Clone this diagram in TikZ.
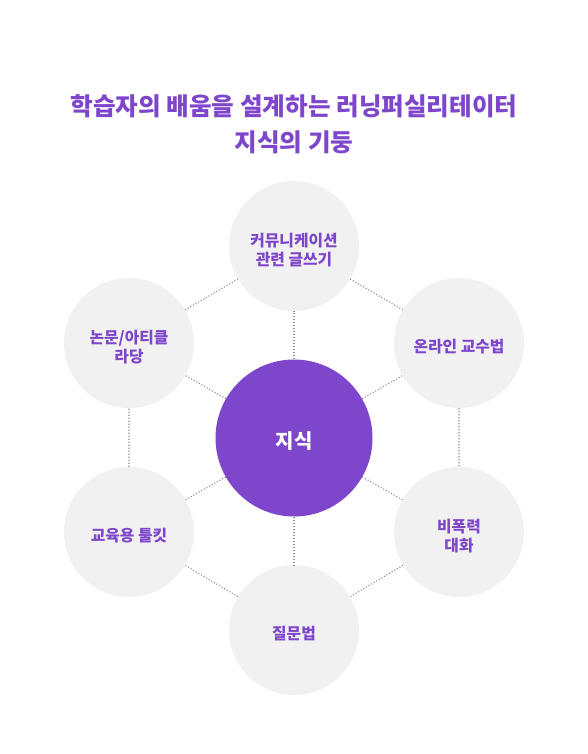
\documentclass[tikz,border=0pt]{standalone}
\usepackage{fontspec}
\newfontfamily\kr{Noto Sans CJK KR}
\usepackage{tikz}
\usetikzlibrary{positioning}
\definecolor{purp}{HTML}{7E46CB}
\definecolor{pale}{HTML}{F1F1F1}

\begin{document}
\begin{tikzpicture}[x=1pt,y=-1pt,
  core/.style={circle,fill=purp,minimum size=157pt,inner sep=0pt},
  coretext/.style={text=white,font=\kr\bfseries\fontsize{20}{24}\selectfont,yshift=-3pt},
  pillar/.style={circle,fill=pale,minimum size=130pt,inner sep=0pt},
  pilltext/.style={align=center,text=purp,font=\kr\bfseries\fontsize{15.8}{19}\selectfont,yshift=-4pt},
  link/.style={draw=black!45,line width=1.1pt,dash pattern=on 1.1pt off 1.9pt}]
\useasboundingbox (0,0) rectangle (587,754);
\node[text=purp,font=\kr\bfseries\fontsize{24.6}{36.5}\selectfont,align=center] (title) at (294,124.5) {학습자의 배움을 설계하는 러닝퍼실리테이터\\지식의 기둥};
\node[core,label={[coretext]center:지식}] (c) at (294,438) {};
\node[pillar,label={[pilltext]center:커뮤니케이션\\관련 글쓰기}] (comm) at (294,246) {};
\node[pillar,label={[pilltext]center:온라인 교수법}] (online) at (459,343) {};
\node[pillar,label={[pilltext]center:비폭력\\대화}] (dialog) at (459,532) {};
\node[pillar,label={[pilltext]center:질문법}] (quest) at (294,630) {};
\node[pillar,label={[pilltext]center:교육용 툴킷}] (tool) at (129,532) {};
\node[pillar,label={[pilltext]center:논문/아티클\\라당}] (read) at (129,343) {};
\draw[link] (comm) -- (online) -- (dialog) -- (quest) -- (tool) -- (read) -- (comm);
\draw[link] (c) -- (comm);
\draw[link] (c) -- (online);
\draw[link] (c) -- (dialog);
\draw[link] (c) -- (quest);
\draw[link] (c) -- (tool);
\draw[link] (c) -- (read);
\end{tikzpicture}
\end{document}
